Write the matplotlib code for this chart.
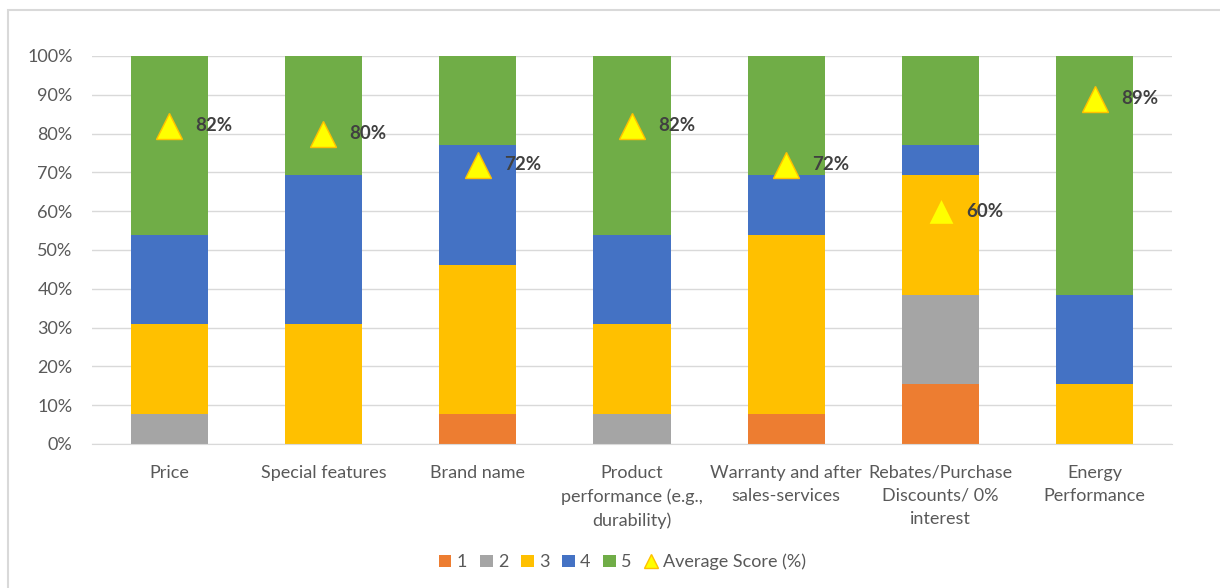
import matplotlib
matplotlib.use("Agg")
from matplotlib import pyplot as plt
from matplotlib.patches import Rectangle
import numpy as np

plt.rcParams['font.family'] = ['Lato', 'DejaVu Sans']

categories = ['Price', 'Special features', 'Brand name',
              'Product\nperformance (e.g.,\ndurability)',
              'Warranty and after\nsales-services',
              'Rebates/Purchase\nDiscounts/ 0%\ninterest',
              'Energy\nPerformance']

# share of respondents (%) giving each rating
score_1 = [0.0, 0.0, 7.7, 0.0, 7.7, 15.4, 0.0]
score_2 = [7.7, 0.0, 0.0, 7.7, 0.0, 23.1, 0.0]
score_3 = [23.1, 30.8, 38.5, 23.1, 46.2, 30.8, 15.4]
score_4 = [23.1, 38.5, 30.8, 23.1, 15.4, 7.7, 23.1]
score_5 = [46.2, 30.7, 23.0, 46.2, 30.7, 23.0, 61.5]
avg_score = [82, 80, 72, 82, 72, 60, 89]

series = [score_1, score_2, score_3, score_4, score_5]
labels = ['1', '2', '3', '4', '5']
colors = ['#ED7D31', '#A5A5A5', '#FFC000', '#4472C4', '#70AD47']

fig = plt.figure(figsize=(12.2, 5.88), dpi=100)
ax = fig.add_axes([0.0754, 0.2449, 0.8852, 0.660])

x = np.arange(len(categories))
bottom = np.zeros(len(categories))
handles = []
for vals, lab, col in zip(series, labels, colors):
    b = ax.bar(x, vals, width=0.5, bottom=bottom, color=col, label=lab, zorder=2)
    handles.append(b)
    bottom += np.array(vals)

avg_line, = ax.plot(x, avg_score, linestyle='none', marker='^', markersize=19,
                    markerfacecolor='#FFFF00', markeredgecolor='#FFC000',
                    markeredgewidth=1, label='Average Score (%)', zorder=3)
handles.append(avg_line)
for xi, v in zip(x, avg_score):
    ax.annotate(f'{v}%', (xi, v), xytext=(26, 0), textcoords='offset pixels',
                ha='left', va='center', fontsize=13.5, fontweight='bold',
                color='#404040', zorder=4)

ax.set_xlim(-0.5, len(categories) - 0.5)
ax.set_ylim(0, 100)
ax.set_yticks(np.arange(0, 101, 10))
ax.set_yticklabels([f'{t}%' for t in range(0, 101, 10)])
ax.set_xticks(x)
ax.set_xticklabels(categories, linespacing=1.55)
ax.tick_params(axis='both', length=0, labelsize=13, labelcolor='#595959')
ax.tick_params(axis='x', pad=15)
ax.tick_params(axis='y', pad=14)
ax.grid(axis='y', color='#D9D9D9', linewidth=1, zorder=0)
for s in ['top', 'right', 'left']:
    ax.spines[s].set_visible(False)
ax.spines['bottom'].set_color('#D9D9D9')

leg = fig.legend(handles=handles, labels=labels + ['Average Score (%)'],
                 loc='center', bbox_to_anchor=(0.51, 0.044), ncol=6,
                 frameon=False, fontsize=13, handlelength=0.7, handleheight=0.7,
                 handletextpad=0.3, columnspacing=0.7)
for t in leg.get_texts():
    t.set_color('#595959')
for h in leg.legend_handles:
    if hasattr(h, 'set_markersize'):
        h.set_markersize(10)

# chart frame
fig.patches.append(Rectangle((8 / 1220, -0.1), 1.2, 0.983 + 0.1, transform=fig.transFigure,
                             fill=False, edgecolor='#D9D9D9', linewidth=1.5))

fig.savefig('out.png', dpi=100)
